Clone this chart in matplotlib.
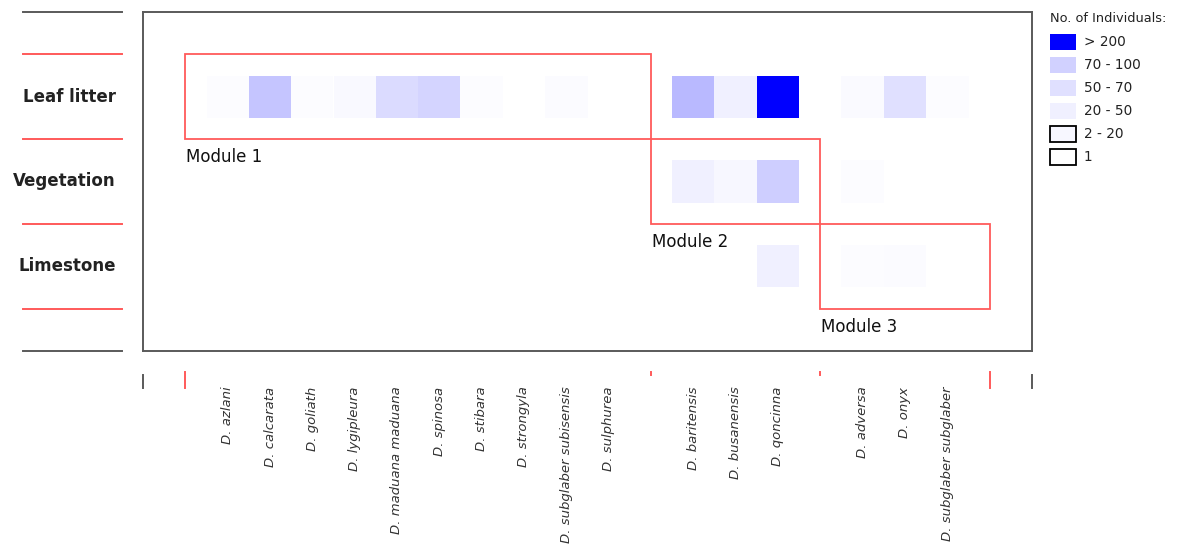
"""
Modular web of Diplommatina-style species across three microhabitats:
heat-map cells shaded by number of individuals, module boxes in red.
"""

import matplotlib
matplotlib.use("Agg")
import matplotlib.pyplot as plt
import numpy as np
from matplotlib.patches import Rectangle
from matplotlib.transforms import blended_transform_factory

# --- data ------------------------------------------------------------------
habitats = ["Leaf litter", "Vegetation", "Limestone"]

species = [
    "D. azlani", "D. calcarata", "D. goliath", "D. lygipleura",
    "D. maduana maduana", "D. spinosa", "D. stibara", "D. strongyla",
    "D. subglaber subisensis", "D. sulphurea",
    "D. baritensis", "D. busanensis", "D. qoncinna",
    "D. adversa", "D. onyx", "D. subglaber subglaber",
]
# column slot of each species on the x axis (module gaps at 1, 12, 16, 20)
species_pos = [2, 3, 4, 5, 6, 7, 8, 9, 10, 11, 13, 14, 15, 17, 18, 19]

# estimated individuals per habitat (rows) x species (cols); 0 = absent
leaf_litter = [5, 140, 5, 15, 80, 95, 4, 1, 8, 1, 180, 50, 320, 12, 70, 4]
vegetation = [0, 0, 0, 0, 0, 0, 0, 0, 0, 0, 50, 20, 110, 3, 0, 0]
limestone = [0, 0, 0, 0, 0, 0, 0, 0, 0, 0, 0, 0, 48, 3, 6, 0]

# modules: (first slot edge, last slot edge, habitat row)
module_names = ["Module 1", "Module 2", "Module 3"]
module_x = [(1, 12), (12, 16), (16, 20)]
module_row = [1, 2, 3]

legend_labels = ["> 200", "70 - 100", "50 - 70", "20 - 50", "2 - 20", "1"]
legend_counts = [250, 100, 70, 50, 20, 1]

# count -> shade fraction (0 white, 1 pure blue)
SHADE_COUNTS = [0, 1, 2, 20, 50, 70, 100, 200, 250]
SHADE_FRAC = [0, 0, 0.01, 0.03, 0.06, 0.12, 0.18, 0.30, 1.0]

RED = "#ff5a5a"
GREY = "#5a5a5a"


def shade(count):
    f = np.interp(count, SHADE_COUNTS, SHADE_FRAC)
    return (1 - f, 1 - f, 1.0)


fig = plt.figure(figsize=(11.88, 5.49), dpi=100)
W, H = 1188, 549
ax = fig.add_axes([143 / W, 1 - 351 / H, (1032 - 143) / W, (351 - 12) / H])
ax.set_xlim(0, 21)
ax.set_ylim(4, 0)
ax.set_xticks([])
ax.set_yticks([])
for sp in ax.spines.values():
    sp.set_color(GREY)
    sp.set_linewidth(1.4)

# cells
matrix = np.array([leaf_litter, vegetation, limestone])
for r, row in enumerate(matrix):
    for x, n in zip(species_pos, row):
        if n > 0:
            ax.bar(x, 0.5, bottom=r + 1 - 0.25, width=1.0, color=shade(n),
                   edgecolor="none", zorder=1)

# module boxes + labels
for name, (x0, x1), r in zip(module_names, module_x, module_row):
    ax.add_patch(Rectangle((x0, r - 0.5), x1 - x0, 1.0, fill=False,
                           edgecolor=RED, lw=1.3, zorder=3))
    ax.text(x0 + 0.02, r + 0.5 + 0.11, name, ha="left", va="top",
            fontsize=12, color="#111111", zorder=4)

# left-hand row separators and labels
tr_y = blended_transform_factory(ax.transAxes, ax.transData)
x_l0, x_l1 = (23 - 143) / 889, (122 - 143) / 889
for y in [0, 4]:
    ax.plot([x_l0, x_l1], [y, y], color=GREY, lw=1.4, transform=tr_y,
            clip_on=False)
for y in [0.5, 1.5, 2.5, 3.5]:
    ax.plot([x_l0, x_l1], [y, y], color=RED, lw=1.4, transform=tr_y,
            clip_on=False)
for r, name in enumerate(habitats):
    ax.text((116 - 143) / 889, r + 1, name, ha="right", va="center",
            fontsize=12, fontweight="bold", color="#222222", transform=tr_y)

# bottom slot ticks and species labels
tr_x = blended_transform_factory(ax.transData, ax.transAxes)
for x in [0, 21]:
    ax.plot([x, x], [-0.071, -0.109], color=GREY, lw=1.4, transform=tr_x,
            clip_on=False)
for x in [1, 20]:
    ax.plot([x, x], [-0.062, -0.109], color=RED, lw=1.4, transform=tr_x,
            clip_on=False)
for x in [12, 16]:
    ax.plot([x, x], [-0.062, -0.072], color=RED, lw=1.4, transform=tr_x,
            clip_on=False)
for x, name in zip(species_pos, species):
    ax.text(x, -0.105, name, rotation=90, ha="center", va="top",
            fontsize=9.5, style="italic", color="#333333", transform=tr_x)

# legend
fig.text(1050 / W, 1 - 18 / H, "No. of Individuals:", fontsize=9.3,
         ha="left", va="center", color="#222222")
for i, (lab, n) in enumerate(zip(legend_labels, legend_counts)):
    yc = 42 + 23 * i
    edge = "black" if n <= 20 else "none"
    fig.patches.append(Rectangle((1050 / W, 1 - (yc + 8) / H), 26 / W,
                                 16 / H, transform=fig.transFigure,
                                 facecolor=shade(n), edgecolor=edge, lw=1.3))
    fig.text(1084 / W, 1 - yc / H, lab, fontsize=9.8, ha="left", va="center",
             color="#222222")

fig.savefig("out.png", dpi=100)
